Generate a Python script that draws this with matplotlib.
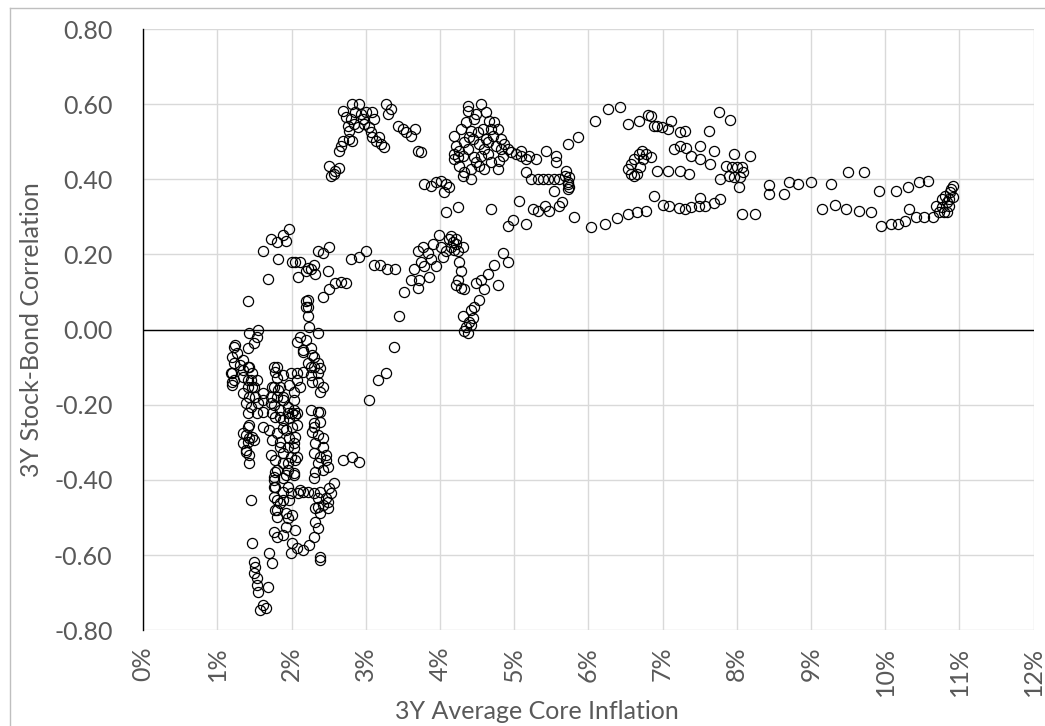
import matplotlib
matplotlib.use("Agg")
import matplotlib.pyplot as plt
from matplotlib.ticker import FuncFormatter, MultipleLocator
from matplotlib.lines import Line2D

plt.rcParams['font.family'] = ['Lato', 'DejaVu Sans']

# 3Y average core inflation (%) vs 3Y stock-bond correlation

# low inflation, left column (1.1% - 1.75%)
low_x = [1.41, 1.55, 1.54, 1.49, 1.42, 1.41, 1.24, 1.22, 1.20, 1.22, 1.20, 1.20, 1.27, 1.34,
         1.41, 1.47, 1.54, 1.41, 1.47, 1.34, 1.18, 1.22, 1.20, 1.31, 1.35, 1.42, 1.45, 1.41,
         1.49, 1.35, 1.42, 1.51, 1.38, 1.45, 1.55, 1.61, 1.62, 1.61, 1.54, 1.41, 1.42, 1.41,
         1.35, 1.38, 1.42, 1.49, 1.41, 1.35, 1.38, 1.38, 1.42, 1.47, 1.62, 1.42, 1.45, 1.47,
         1.49, 1.51, 1.49, 1.54, 1.55, 1.68, 1.61, 1.65, 1.58, 1.69, 1.74, 1.53]
low_y = [0.077, 0.0, -0.019, -0.035, -0.008, -0.05, -0.04, -0.045, -0.072, -0.088, -0.115, -0.139,
         -0.061, -0.08, -0.099, -0.115, -0.133, -0.133, -0.152, -0.125, -0.115, -0.133, -0.147,
         -0.093, -0.107, -0.099, -0.133, -0.152, -0.152, -0.168, -0.179, -0.179, -0.195, -0.205,
         -0.195, -0.168, -0.187, -0.219, -0.221, -0.221, -0.253, -0.259, -0.275, -0.28, -0.288,
         -0.293, -0.299, -0.301, -0.32, -0.325, -0.333, -0.285, -0.259, -0.355, -0.453, -0.568,
         -0.619, -0.632, -0.648, -0.661, -0.699, -0.685, -0.733, -0.741, -0.747, -0.595, -0.621,
         -0.68]

# middle column (1.7% - 2.4%)
mid_x = [1.81, 1.78, 1.81, 1.76, 1.82, 1.72, 1.81, 1.89, 1.76, 1.85, 1.95, 1.78, 1.88, 1.96,
         2.05, 2.03, 2.01, 1.89, 1.81, 1.74, 1.85, 1.96, 2.05, 1.95, 2.03, 1.89, 1.99, 1.78,
         2.05, 1.89, 1.81, 1.95, 1.76, 1.88, 2.03, 1.76, 1.88, 1.99, 2.12, 1.76, 1.85, 1.96,
         1.81, 1.92, 2.01, 2.09, 2.16, 1.78, 1.76, 1.78, 1.81, 1.78, 1.81, 1.76, 1.81, 1.88,
         1.92, 1.95, 2.05, 2.01, 1.99, 2.08, 2.15, 2.23, 1.85, 1.95, 1.92, 1.95, 1.88, 1.92,
         2.03, 2.08, 2.03, 1.95, 2.08, 2.08, 1.74, 1.85, 1.89, 2.03, 2.01, 1.85, 1.74, 1.72,
         1.88, 1.76, 1.69, 1.72,
         1.99, 2.08, 2.16, 2.26, 2.35, 2.30, 2.22, 2.36, 2.39, 2.28, 2.08, 1.96, 2.03, 2.12, 2.42]
mid_y = [-0.099, -0.112, -0.128, -0.152, -0.16, -0.179, -0.179, -0.187, -0.2, -0.213, -0.205,
         -0.232, -0.24, -0.235, -0.227, -0.213, -0.259, -0.261, -0.275, -0.293, -0.299, -0.288,
         -0.285, -0.312, -0.315, -0.328, -0.339, -0.347, -0.347, -0.355, -0.373, -0.373, -0.392,
         -0.395, -0.387, -0.419, -0.432, -0.435, -0.427, -0.445, -0.461, -0.453, -0.48, -0.488,
         -0.493, -0.435, -0.432, -0.379, -0.4, -0.419, -0.453, -0.48, -0.499, -0.539, -0.552,
         -0.547, -0.525, -0.501, -0.533, -0.568, -0.595, -0.581, -0.587, -0.573, -0.312, -0.355,
         -0.387, -0.419, -0.453, -0.267, -0.301, -0.339, -0.381, -0.221, -0.221, -0.253, -0.152,
         -0.152, -0.179, -0.187, -0.221, -0.232, -0.221, -0.195, -0.12, -0.099, -0.267, -0.333,
         -0.115, -0.115, -0.112, -0.12, -0.115, -0.099, -0.088, -0.139, -0.165, -0.139, -0.133,
         -0.147, -0.165, -0.152, -0.152]

# right column (2.2% - 2.9%), below zero
right_x = [2.22, 2.30, 2.39, 2.35, 2.46, 2.50, 2.57, 2.53, 2.49, 2.42, 2.32, 2.49, 2.39, 2.35,
           2.30, 2.32, 2.39, 2.39,
           2.26, 2.35, 2.39, 2.39, 2.30, 2.30, 2.28, 2.36, 2.43, 2.32, 2.42, 2.30, 2.39, 2.46,
           2.46, 2.35, 2.32, 2.43, 2.49, 2.30, 2.70, 2.82, 2.91, 2.36,
           2.19, 2.08, 2.15, 2.26, 2.30, 2.36, 2.26, 2.39, 2.16, 2.28, 2.35, 2.23, 2.22, 2.19,
           2.22, 2.19, 2.22, 2.12]
right_y = [-0.432, -0.435, -0.432, -0.448, -0.448, -0.421, -0.408, -0.435, -0.459, -0.467, -0.475,
           -0.475, -0.488, -0.528, -0.552, -0.512, -0.605, -0.613,
           -0.213, -0.219, -0.219, -0.245, -0.248, -0.259, -0.272, -0.28, -0.288, -0.301, -0.312,
           -0.328, -0.339, -0.347, -0.333, -0.355, -0.379, -0.373, -0.365, -0.395, -0.347, -0.339,
           -0.352, -0.472,
           -0.027, -0.032, -0.059, -0.048, -0.072, -0.088, -0.099, -0.101, -0.053, -0.067, -0.008,
           0.008, 0.035, 0.061, 0.08, 0.075, 0.059, -0.019]

# 1.6% - 3.7%, 0.0 to 0.27
lowpos_x = [1.96, 1.88, 1.72, 1.81, 1.92, 1.62, 1.82, 1.68, 2.01, 2.05, 2.12, 2.26, 2.22, 2.30,
            2.19, 2.32, 2.35, 2.43, 2.50, 2.09, 2.49, 2.59, 2.66, 2.74, 2.50, 2.43, 2.80, 2.91,
            3.01, 3.11, 3.19, 3.28, 3.39, 3.38, 3.27, 3.16, 3.05, 3.45, 3.51, 3.65, 3.61, 3.72,
            3.70]
lowpos_y = [0.267, 0.253, 0.24, 0.232, 0.235, 0.208, 0.187, 0.136, 0.179, 0.181, 0.179, 0.16,
            0.165, 0.173, 0.155, 0.147, 0.208, 0.205, 0.221, 0.139, 0.155, 0.125, 0.128, 0.125,
            0.107, 0.088, 0.187, 0.192, 0.208, 0.173, 0.173, 0.16, 0.16, -0.045, -0.115, -0.133,
            -0.187, 0.035, 0.101, 0.16, 0.133, 0.133, 0.112]

# 2.5% - 3.75%, 0.40 to 0.60
hump_x = [2.50, 2.57, 2.53, 2.64, 2.59, 2.64, 2.66, 2.70, 2.77, 2.82, 2.76, 2.73, 2.70, 2.82,
          2.91, 2.86, 2.93, 3.00, 3.09, 3.11, 2.84, 2.89, 3.04, 3.07, 3.09, 3.14, 3.20, 3.24,
          3.18, 3.27, 3.34, 3.30, 3.43, 3.50, 3.54, 3.61, 3.66, 3.70, 3.74, 2.96, 2.80, 2.77,
          2.97]
hump_y = [0.435, 0.413, 0.408, 0.429, 0.421, 0.475, 0.488, 0.501, 0.507, 0.501, 0.541, 0.565,
          0.581, 0.60, 0.60, 0.579, 0.573, 0.579, 0.579, 0.56, 0.547, 0.539, 0.539, 0.525, 0.512,
          0.501, 0.493, 0.485, 0.512, 0.60, 0.587, 0.573, 0.541, 0.533, 0.525, 0.515, 0.533,
          0.475, 0.472, 0.56, 0.56, 0.528, 0.547]

# 3.7% - 4.9%, 0.0 to 0.40
mid4_x = [3.78, 3.88, 3.95, 4.01, 4.08, 4.12, 4.05, 4.08, 4.24, 4.69, 3.99,
          4.15, 4.12, 4.18, 4.22, 4.15, 4.19, 4.24, 4.22, 4.31, 3.77, 3.70, 3.84, 3.88, 3.74,
          3.78, 3.85, 3.95, 4.04, 4.01, 4.08, 3.90, 4.26, 4.28, 4.24, 4.22, 4.28, 4.32, 4.49,
          4.55, 4.65, 4.73, 4.85, 4.92, 4.78, 4.59, 4.53, 4.46, 4.42, 4.45, 4.39, 4.35, 4.32,
          4.38, 4.31, 4.42]
mid4_y = [0.387, 0.381, 0.392, 0.395, 0.387, 0.379, 0.365, 0.312, 0.325, 0.32, 0.253,
          0.248, 0.24, 0.232, 0.227, 0.221, 0.213, 0.208, 0.24, 0.221, 0.221, 0.208, 0.205,
          0.187, 0.181, 0.168, 0.139, 0.168, 0.192, 0.219, 0.208, 0.227, 0.179, 0.155, 0.133,
          0.12, 0.112, 0.107, 0.125, 0.133, 0.147, 0.173, 0.205, 0.181, 0.12, 0.107, 0.08, 0.061,
          0.053, 0.032, 0.019, 0.008, -0.005, -0.008, 0.035, 0.013]

# 4.2% - 5.0%, 0.40 to 0.60
peak4_x = [4.38, 4.55, 4.38, 4.62, 4.46, 4.35, 4.28, 4.19, 4.22, 4.19, 4.19, 4.26, 4.32, 4.42,
           4.31, 4.42, 4.49, 4.55, 4.59, 4.65, 4.72, 4.78, 4.73, 4.66, 4.82, 4.82, 4.85, 4.80,
           4.78, 4.69, 4.59, 4.53, 4.46, 4.38, 4.32, 4.45, 4.51, 4.58, 4.42, 4.31, 4.26, 4.24,
           4.49, 4.69, 4.62, 4.76, 4.39, 4.53, 4.86, 4.65]
peak4_y = [0.595, 0.60, 0.581, 0.579, 0.56, 0.552, 0.533, 0.515, 0.488, 0.467, 0.453, 0.435,
           0.419, 0.40, 0.408, 0.427, 0.445, 0.461, 0.48, 0.499, 0.515, 0.533, 0.552, 0.555,
           0.507, 0.48, 0.461, 0.448, 0.427, 0.445, 0.427, 0.435, 0.459, 0.48, 0.499, 0.507,
           0.525, 0.533, 0.528, 0.461, 0.475, 0.459, 0.573, 0.533, 0.507, 0.488, 0.512, 0.493,
           0.493, 0.467]

# 4.9% - 8.3%
upper_x = [4.92, 4.96, 5.03, 5.09, 5.16, 5.20, 5.30, 5.43, 5.57, 5.57, 5.73, 5.86, 5.09,
           5.16, 5.23, 5.32, 5.39, 5.46, 5.54, 5.61, 5.68, 5.73, 5.74, 5.70, 5.54, 5.74, 5.72,
           5.73,
           6.09, 6.27, 6.43, 6.54, 6.68, 6.80, 6.85, 6.89, 6.92, 6.99, 7.08, 7.12, 7.23, 7.30,
           7.62, 7.76, 7.91, 7.15, 7.23, 7.32, 7.39, 7.50, 7.50, 7.64, 7.70, 7.96, 8.18, 7.86,
           7.93, 8.00, 8.07, 8.09, 8.04, 7.96, 7.77, 8.03, 7.89, 6.85, 6.92, 7.08, 7.23, 7.36,
           6.54, 6.58, 6.62, 6.68, 6.72, 6.78, 6.74, 6.66, 6.61, 6.69, 6.57]
upper_y = [0.48, 0.472, 0.467, 0.475, 0.453, 0.461, 0.453, 0.475, 0.461, 0.445, 0.493, 0.512,
           0.461, 0.419, 0.40, 0.40, 0.40, 0.40, 0.40, 0.40, 0.408, 0.392, 0.379, 0.421, 0.368,
           0.405, 0.387, 0.373,
           0.555, 0.587, 0.592, 0.547, 0.555, 0.571, 0.568, 0.541, 0.541, 0.539, 0.533, 0.555,
           0.525, 0.528, 0.528, 0.579, 0.557, 0.48, 0.488, 0.483, 0.461, 0.488, 0.453, 0.44,
           0.475, 0.467, 0.461, 0.435, 0.432, 0.432, 0.432, 0.419, 0.405, 0.405, 0.40, 0.379,
           0.408, 0.459, 0.421, 0.421, 0.421, 0.413,
           0.427, 0.44, 0.453, 0.467, 0.475, 0.467, 0.453, 0.413, 0.408, 0.432, 0.413]

# 4.9% - 8.3%, around 0.3
lower_x = [5.07, 4.99, 4.92, 5.16, 5.26, 5.32, 5.41, 5.47, 5.61, 5.64, 5.81, 6.03, 6.23, 6.38,
           6.53, 6.66, 6.78, 6.89, 7.01, 7.09, 7.22, 7.30, 7.39, 7.49, 7.57, 7.69, 7.77, 7.50,
           8.07, 8.24]
lower_y = [0.341, 0.293, 0.275, 0.28, 0.32, 0.315, 0.328, 0.315, 0.328, 0.339, 0.301, 0.272,
           0.28, 0.296, 0.307, 0.312, 0.315, 0.355, 0.331, 0.328, 0.323, 0.32, 0.325, 0.328,
           0.328, 0.336, 0.347, 0.349, 0.307, 0.307]

# high inflation tail (8.4% - 11%)
high_x = [8.43, 8.43, 8.64, 8.70, 8.82, 9.00, 9.27, 9.50, 9.72, 9.15, 9.32, 9.47, 9.65, 9.81,
          9.95, 10.08, 10.18, 10.27, 10.41, 10.53, 10.64, 10.73, 10.80, 10.84, 9.92, 10.14,
          10.31, 10.46, 10.58, 10.32, 10.68, 10.77, 10.81, 10.86, 10.91, 10.88, 10.91, 10.84,
          10.77, 10.86, 10.89]
high_y = [0.384, 0.36, 0.36, 0.392, 0.387, 0.392, 0.387, 0.419, 0.419, 0.32, 0.331, 0.32,
          0.315, 0.312, 0.275, 0.28, 0.28, 0.288, 0.299, 0.299, 0.299, 0.312, 0.312, 0.312,
          0.368, 0.368, 0.379, 0.392, 0.395, 0.32, 0.328, 0.347, 0.355, 0.347, 0.381, 0.365,
          0.352, 0.339, 0.325, 0.328, 0.373]

groups = [(low_x, low_y), (mid_x, mid_y), (right_x, right_y), (lowpos_x, lowpos_y),
          (hump_x, hump_y), (mid4_x, mid4_y), (peak4_x, peak4_y), (upper_x, upper_y),
          (lower_x, lower_y), (high_x, high_y)]

fig = plt.figure(figsize=(10.45, 7.26), dpi=100)
ax = fig.add_axes([0.137, 0.132, 0.852, 0.828])

for gx, gy in groups:
    ax.plot([v / 100 for v in gx], gy, linestyle='none', marker='o', markersize=7.3,
            markerfacecolor='none', markeredgecolor='black', markeredgewidth=0.9, zorder=3)

ax.set_xlim(0, 0.12)
ax.set_ylim(-0.8, 0.8)
ax.xaxis.set_major_locator(MultipleLocator(0.01))
ax.yaxis.set_major_locator(MultipleLocator(0.2))
ax.xaxis.set_major_formatter(FuncFormatter(lambda v, p: f"{v * 100:.0f}%"))
ax.yaxis.set_major_formatter(FuncFormatter(lambda v, p: f"{v:.2f}"))

ax.grid(True, color='#d9d9d9', linewidth=1.0, zorder=0)
ax.set_axisbelow(True)
for s in ['top', 'right', 'bottom']:
    ax.spines[s].set_visible(False)
ax.spines['left'].set_color('black')
ax.spines['left'].set_linewidth(1.0)
ax.axhline(0, color='black', linewidth=1.0, zorder=2)

ax.tick_params(axis='both', length=0, labelcolor='#595959', labelsize=18)
ax.tick_params(axis='y', pad=22)
ax.tick_params(axis='x', pad=12, labelrotation=90)

ax.set_xlabel('3Y Average Core Inflation', fontsize=18, color='#595959')
ax.set_ylabel('3Y Stock-Bond Correlation', fontsize=18, color='#595959', labelpad=8)
ax.xaxis.label.set_verticalalignment('center')
ax.xaxis.set_label_coords(0.442, -0.135)

# chart area border
fig.add_artist(Line2D([10 / 1045, 1.0], [1 - 8 / 726, 1 - 8 / 726], color='#bfbfbf', linewidth=1.0))
fig.add_artist(Line2D([10 / 1045, 10 / 1045], [0.0, 1 - 8 / 726], color='#bfbfbf', linewidth=1.0))

fig.savefig('out.png', dpi=100)
